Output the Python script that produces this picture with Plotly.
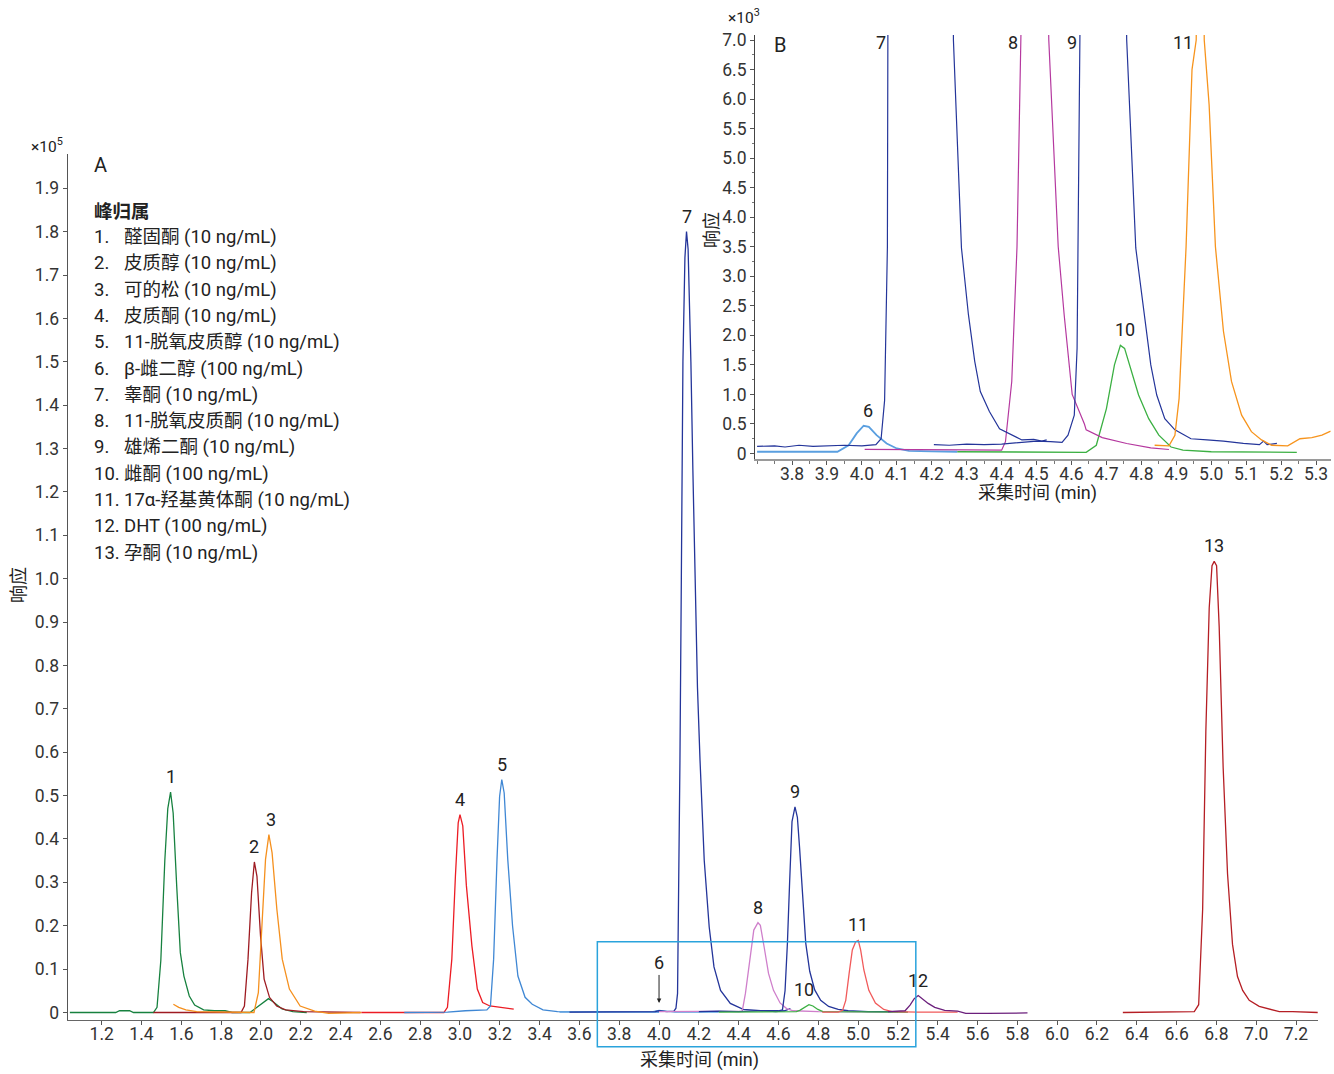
import plotly.graph_objects as go

FONT = "Roboto, 'Noto Sans CJK SC', sans-serif"
TXT = "#222222"
W, H = 1334, 1074

# ---------------- Main chromatogram A (response x10^5) ----------------
t1 = [1.04, 1.27, 1.29, 1.34, 1.36, 1.46, 1.478, 1.497, 1.517, 1.532, 1.546, 1.559, 1.577, 1.595, 1.613,
      1.64, 1.667, 1.712, 1.766, 1.82, 1.855, 1.945, 1.98, 2.016, 2.038, 2.061, 2.106, 2.16, 2.23]
y1 = [0, 0, 0.004, 0.004, 0, 0, 0.012, 0.12, 0.35, 0.47, 0.508, 0.46, 0.29, 0.138, 0.084,
      0.038, 0.017, 0.006, 0.004, 0.004, 0, 0, 0.012, 0.025, 0.032, 0.025, 0.008, 0.002, 0]

t2 = [1.46, 1.9, 1.917, 1.935, 1.953, 1.967, 1.98, 1.998, 2.016, 2.043, 2.079, 2.124, 2.214, 2.5]
y2 = [0, 0, 0.015, 0.123, 0.276, 0.347, 0.314, 0.176, 0.077, 0.035, 0.015, 0.006, 0.002, 0]

t3 = [1.56, 1.587, 1.623, 1.677, 1.965, 1.987, 2.005, 2.023, 2.04, 2.056, 2.08, 2.107, 2.143, 2.197,
      2.27, 2.34, 2.505]
y3 = [0.019, 0.012, 0.006, 0.002, 0, 0.046, 0.2, 0.353, 0.41, 0.368, 0.238, 0.123, 0.054, 0.015,
      0.003, -0.002, 0]

t4 = [2.505, 2.919, 2.937, 2.959, 2.977, 2.991, 3.0, 3.014, 3.032, 3.06, 3.087, 3.114, 3.15, 3.204, 3.27]
y4 = [0, 0, 0.012, 0.123, 0.314, 0.437, 0.456, 0.43, 0.293, 0.153, 0.054, 0.023, 0.015, 0.012, 0.008]

t5 = [2.72, 2.937, 3.027, 3.135, 3.153, 3.169, 3.186, 3.199, 3.21, 3.222, 3.24, 3.264, 3.291, 3.327,
      3.363, 3.417, 3.49, 3.7, 4.0]
y5 = [0, 0.001, 0.004, 0.006, 0.015, 0.123, 0.353, 0.498, 0.537, 0.506, 0.353, 0.2, 0.084, 0.035,
      0.019, 0.006, 0.002, 0.001, 0.001]

t6 = [3.5, 3.9, 3.97, 4.0, 4.03, 4.08, 4.3]
y6 = [0.001, 0.001, 0.002, 0.005, 0.003, 0.001, 0.001]

t7 = [3.55, 3.7, 3.85, 3.98, 4.0, 4.04, 4.075, 4.085, 4.093, 4.1, 4.105, 4.112, 4.12, 4.13, 4.138,
      4.146, 4.153, 4.16, 4.17, 4.18, 4.193, 4.206, 4.227, 4.252, 4.276, 4.309, 4.358, 4.423,
      4.504, 4.586, 4.63, 4.66]
y7 = [0.001, 0.001, 0.001, 0.002, 0.004, 0.002, 0.003, 0.01, 0.044, 0.3, 0.58, 1.0, 1.5, 1.74, 1.80,
      1.76, 1.65, 1.5, 1.25, 1.0, 0.75, 0.58, 0.351, 0.197, 0.105, 0.051, 0.021, 0.007,
      0.004, 0.002, 0.004, 0.009]

t8 = [4.0, 4.2, 4.4, 4.418, 4.434, 4.459, 4.476, 4.497, 4.509, 4.528, 4.55, 4.575, 4.608, 4.641,
      4.674, 4.8, 5.0, 5.25]
y8 = [0.002, 0.002, 0.002, 0.003, 0.044, 0.136, 0.19, 0.207, 0.201, 0.151, 0.09, 0.051, 0.022, 0.009,
      0.004, 0.002, 0.001, 0.001]

t9 = [4.2, 4.3, 4.4, 4.5, 4.6, 4.62, 4.633, 4.645, 4.656, 4.668, 4.683, 4.695, 4.706, 4.72, 4.737,
      4.757, 4.782, 4.812, 4.852, 4.9, 4.95, 5.05, 5.2]
y9 = [0.002, 0.003, 0.002, 0.004, 0.004, 0.006, 0.05, 0.16, 0.3, 0.44, 0.474, 0.45, 0.38, 0.27, 0.16,
      0.095, 0.052, 0.028, 0.014, 0.007, 0.004, 0.002, 0.002]

t10 = [4.3, 4.5, 4.69, 4.707, 4.732, 4.753, 4.773, 4.798, 4.823, 5.0, 5.25]
y10 = [0.001, 0.001, 0.002, 0.005, 0.013, 0.018, 0.015, 0.007, 0.002, 0.001, 0.001]

t11 = [4.82, 4.9, 4.922, 4.938, 4.955, 4.971, 4.988, 5.001, 5.013, 5.029, 5.054, 5.087, 5.129, 5.17,
       5.3, 5.5]
y11 = [0.001, 0.001, 0.005, 0.028, 0.09, 0.144, 0.163, 0.166, 0.144, 0.098, 0.051, 0.022, 0.007, 0.002,
       0.001, 0.001]

t12 = [5.15, 5.236, 5.261, 5.282, 5.302, 5.322, 5.352, 5.385, 5.435, 5.5, 5.541, 5.65, 5.742, 5.851]
y12 = [0.002, 0.004, 0.017, 0.032, 0.039, 0.032, 0.021, 0.012, 0.005, 0.003, -0.002, -0.002, -0.001,
       -0.001]

t13 = [6.33, 6.689, 6.711, 6.731, 6.747, 6.764, 6.778, 6.789, 6.801, 6.814, 6.834, 6.856, 6.881, 6.906,
       6.932, 6.965, 7.015, 7.082, 7.116, 7.183, 7.309]
y13 = [0, 0.002, 0.018, 0.238, 0.647, 0.933, 1.03, 1.04, 1.03, 0.89, 0.565, 0.32, 0.157, 0.083,
       0.051, 0.028, 0.014, 0.006, 0.002, 0.002, 0]

main_traces = [
    ("1", t1, y1, "#17813f"), ("2", t2, y2, "#9e1b22"), ("3", t3, y3, "#f5901e"),
    ("4", t4, y4, "#ec1c24"), ("5", t5, y5, "#3f87d4"), ("6", t6, y6, "#5a9fe0"),
    ("7", t7, y7, "#24359a"), ("8", t8, y8, "#cf7fcb"), ("9", t9, y9, "#24359a"),
    ("10", t10, y10, "#3cb043"), ("11", t11, y11, "#f15a5a"), ("12", t12, y12, "#6b1f7c"),
    ("13", t13, y13, "#b51e24"),
]

# ---------------- Inset B (response x10^3) ----------------
ti6 = [3.70, 3.80, 3.93, 3.962, 3.985, 4.005, 4.02, 4.042, 4.071, 4.10, 4.135, 4.20, 4.273]
yi6 = [0.03, 0.03, 0.03, 0.14, 0.34, 0.47, 0.45, 0.31, 0.17, 0.085, 0.045, 0.035, 0.03]

ti7 = [3.70, 3.75, 3.78, 3.82, 3.86, 3.90, 3.95, 4.00, 4.04, 4.055, 4.065, 4.073, 4.079, 4.14,
       4.262, 4.285, 4.305, 4.323, 4.339, 4.365, 4.394, 4.423, 4.458, 4.492, 4.515, 4.529]
yi7 = [0.12, 0.13, 0.11, 0.14, 0.12, 0.13, 0.14, 0.13, 0.15, 0.25, 0.9, 3.5, 7.0, 180,
       7.0, 3.48, 2.35, 1.56, 1.05, 0.71, 0.42, 0.34, 0.23, 0.24, 0.21, 0.23]

ti8 = [4.008, 4.10, 4.20, 4.30, 4.40, 4.411, 4.429, 4.444, 4.455, 4.497, 4.535, 4.562, 4.579, 4.602,
       4.637, 4.642, 4.688, 4.758, 4.827, 4.879]
yi8 = [0.07, 0.07, 0.065, 0.06, 0.057, 0.20, 1.22, 3.5, 7.0, 20.7, 7.0, 3.5, 2.35, 1.0,
       0.5, 0.40, 0.27, 0.17, 0.096, 0.068]

ti9 = [4.206, 4.25, 4.30, 4.35, 4.40, 4.45, 4.50, 4.54, 4.573, 4.59, 4.608, 4.616, 4.619, 4.624,
       4.683, 4.758, 4.784, 4.804, 4.827, 4.844, 4.867, 4.896, 4.942, 4.988, 5.035, 5.092, 5.138,
       5.15, 5.16, 5.188]
yi9 = [0.15, 0.14, 0.16, 0.15, 0.16, 0.19, 0.21, 0.20, 0.19, 0.31, 0.65, 1.78, 3.48, 7.0,
       47.4, 7.0, 3.48, 2.52, 1.5, 0.99, 0.59, 0.40, 0.25, 0.23, 0.21, 0.17, 0.15,
       0.21, 0.15, 0.17]

ti10 = [4.273, 4.40, 4.50, 4.60, 4.642, 4.671, 4.70, 4.723, 4.74, 4.752, 4.77, 4.792, 4.821, 4.85,
        4.885, 4.919, 5.00, 5.10, 5.245]
yi10 = [0.03, 0.028, 0.025, 0.022, 0.02, 0.14, 0.76, 1.5, 1.83, 1.78, 1.44, 0.99, 0.59, 0.31,
        0.11, 0.057, 0.03, 0.025, 0.02]

ti11 = [4.838, 4.879, 4.896, 4.908, 4.919, 4.928, 4.945, 4.957, 4.97, 4.98, 4.994, 5.012, 5.035, 5.058,
        5.087, 5.115, 5.144, 5.173, 5.219, 5.23, 5.254, 5.288, 5.317, 5.342]
yi11 = [0.14, 0.13, 0.31, 0.93, 2.35, 3.5, 6.5, 7.0, 16.6, 7.0, 5.9, 3.5, 2.07, 1.22,
        0.65, 0.37, 0.23, 0.14, 0.13, 0.17, 0.25, 0.27, 0.31, 0.38]

inset_traces = [
    ("6", ti6, yi6, "#5a9fe0", 1.8), ("10", ti10, yi10, "#3cb043", 1.3),
    ("8", ti8, yi8, "#b5389f", 1.2), ("7", ti7, yi7, "#24359a", 1.2),
    ("9", ti9, yi9, "#24359a", 1.2), ("11", ti11, yi11, "#f7941d", 1.3),
]

legend_title = "峰归属"
legend_nums = ["1.", "2.", "3.", "4.", "5.", "6.", "7.", "8.", "9.", "10.", "11.", "12.", "13."]
legend_names = ["醛固酮 (10 ng/mL)", "皮质醇 (10 ng/mL)", "可的松 (10 ng/mL)", "皮质酮 (10 ng/mL)",
                "11-脱氧皮质醇 (10 ng/mL)", "β-雌二醇 (100 ng/mL)", "睾酮 (10 ng/mL)",
                "11-脱氧皮质酮 (10 ng/mL)", "雄烯二酮 (10 ng/mL)", "雌酮 (100 ng/mL)",
                "17α-羟基黄体酮 (10 ng/mL)", "DHT (100 ng/mL)", "孕酮 (10 ng/mL)"]

main_xticks = [round(1.2 + 0.2 * i, 1) for i in range(31)]
main_yticks = [round(0.1 * i, 1) for i in range(20)]
inset_xticks = [round(3.8 + 0.1 * i, 1) for i in range(16)]
inset_yticks = [round(0.5 * i, 1) for i in range(15)]

# ---------------- layout geometry (pixels) ----------------
MX0, MX1, MY_BOT, MY_TOP = 67.7, 1318.3, 1020, 154
MAIN_XR = [1.0292, 7.312]
MAIN_YR = [-0.0173, 1.979]
IX0, IX1, IY_BOT, IY_TOP = 755, 1330.7, 459.3, 35
INSET_XR = [3.694, 5.342]
INSET_YR = [-0.098, 7.085]

def px(v):
    return v / W

def py(v):
    return (H - v) / H

def main_to_paper(t, y):
    fx = (t - MAIN_XR[0]) / (MAIN_XR[1] - MAIN_XR[0])
    fy = (y - MAIN_YR[0]) / (MAIN_YR[1] - MAIN_YR[0])
    return px(MX0 + fx * (MX1 - MX0)), py(MY_BOT - fy * (MY_BOT - MY_TOP))

ZOOM_BOX_T = (3.69, 5.29)
ZOOM_BOX_Y = (-0.079, 0.163)

fig = go.Figure()
for name, t, y, c in main_traces:
    fig.add_trace(go.Scatter(x=t, y=y, mode="lines", line=dict(color=c, width=1.3),
                             name=name, showlegend=False, xaxis="x", yaxis="y"))
for name, t, y, c, w in inset_traces:
    fig.add_trace(go.Scatter(x=t, y=y, mode="lines", line=dict(color=c, width=w),
                             name=name, showlegend=False, xaxis="x2", yaxis="y2"))

ann = []
tick_font = dict(family=FONT, size=17.5, color="#333333")
lab_font = dict(family=FONT, size=18, color=TXT)
leg_font = dict(family=FONT, size=18.5, color=TXT)

# peak labels, main
for name, t, y, c in main_traces:
    if name == "6":
        continue
    i = max(range(len(y)), key=lambda k: y[k])
    dx = {"3": 2, "10": -5}.get(name, 0)
    ann.append(dict(x=t[i], y=y[i], xref="x", yref="y", text=name, showarrow=False,
                    xanchor="center", yanchor="bottom", yshift=3, xshift=dx, font=lab_font))
ann.append(dict(x=4.0, y=0.022, xref="x", yref="y", text="6", showarrow=True, ax=0, ay=-40,
                arrowhead=2, arrowsize=0.9, arrowwidth=1, arrowcolor=TXT, standoff=0, font=lab_font))

# peak labels, inset (top ones sit left of the line where it leaves the frame)
for name, t, y in [("7", ti7, yi7), ("8", ti8, yi8), ("9", ti9, yi9), ("11", ti11, yi11)]:
    k = y.index(7.0)
    ann.append(dict(x=t[k], y=7.0, xref="x2", yref="y2", text=name, showarrow=False,
                    xanchor="right", yanchor="middle", xshift=-1, yshift=-2, font=lab_font))
for name, t, y, dx in [("10", ti10, yi10, 5), ("6", ti6, yi6, 4)]:
    i = max(range(len(y)), key=lambda k: y[k])
    ann.append(dict(x=t[i], y=y[i], xref="x2", yref="y2", text=name, showarrow=False,
                    xanchor="center", yanchor="bottom", yshift=3, xshift=dx, font=lab_font))

# axis multipliers, panel letters, titles
ann += [
    dict(x=px(47), y=py(145), text="×10<sup>5</sup>", font=dict(family=FONT, size=15.5, color=TXT)),
    dict(x=px(744), y=py(17), text="×10<sup>3</sup>", font=dict(family=FONT, size=15.5, color=TXT)),
    dict(x=px(92), y=py(165), text="A", xanchor="left", font=dict(family=FONT, size=20, color=TXT)),
    dict(x=px(772), y=py(45), text="B", xanchor="left", font=dict(family=FONT, size=20, color=TXT)),
    dict(x=px(18), y=py(585), text="响应", textangle=-90, font=lab_font),
    dict(x=px(711), y=py(230), text="响应", textangle=-90, font=lab_font),
    dict(x=px(700), y=py(1060), text="采集时间 (min)", font=lab_font),
    dict(x=px(1037), y=py(493), text="采集时间 (min)", font=lab_font),
    dict(x=px(92), y=py(212), text="<b>" + legend_title + "</b>", xanchor="left", font=leg_font),
]
for i, (n, s) in enumerate(zip(legend_nums, legend_names)):
    yy = py(237 + i * 26.3)
    ann.append(dict(x=px(92), y=yy, text=n, xanchor="left", font=leg_font))
    ann.append(dict(x=px(122), y=yy, text=s, xanchor="left", font=leg_font))
for a in ann:
    a.setdefault("xref", "paper")
    a.setdefault("yref", "paper")
    a.setdefault("xanchor", "center")
    a.setdefault("yanchor", "middle")
    a.setdefault("showarrow", False)

bx0, by0 = main_to_paper(ZOOM_BOX_T[0], ZOOM_BOX_Y[0])
bx1, by1 = main_to_paper(ZOOM_BOX_T[1], ZOOM_BOX_Y[1])
shapes = [dict(type="rect", xref="paper", yref="paper", x0=bx0, x1=bx1, y0=by0, y1=by1,
               line=dict(color="#2aa3dc", width=1.5), fillcolor="rgba(0,0,0,0)", layer="above")]

fig.update_layout(
    width=W, height=H, template="none",
    margin=dict(l=0, r=0, t=0, b=0, pad=0),
    paper_bgcolor="white", plot_bgcolor="rgba(0,0,0,0)",
    showlegend=False, font=dict(family=FONT, color=TXT),
    xaxis=dict(domain=[px(MX0), px(MX1)], range=MAIN_XR, anchor="y",
               tickvals=main_xticks, ticktext=[f"{v:.1f}" for v in main_xticks],
               ticks="outside", ticklen=4, tickwidth=1, tickcolor="#555", ticklabelstandoff=-6,
               showline=True, linecolor="#666", linewidth=1.3, showgrid=False, zeroline=False,
               tickfont=tick_font, automargin=False),
    yaxis=dict(domain=[py(MY_BOT), py(MY_TOP)], range=MAIN_YR, anchor="x",
               tickvals=main_yticks, ticktext=["0"] + [f"{v:.1f}" for v in main_yticks[1:]],
               ticks="outside", ticklen=4, tickwidth=1, tickcolor="#555",
               showline=True, linecolor="#555", linewidth=1.2, showgrid=False, zeroline=False,
               tickfont=tick_font, automargin=False),
    xaxis2=dict(domain=[px(IX0), px(IX1)], range=INSET_XR, anchor="y2",
                tickvals=inset_xticks, ticktext=[f"{v:.1f}" for v in inset_xticks],
                ticks="outside", ticklen=4, tickwidth=1, tickcolor="#555", ticklabelstandoff=-6,
                minor=dict(dtick=0.05, tick0=3.7, ticks="outside", ticklen=3, tickcolor="#777"),
                showline=True, linecolor="#9a9a9a", linewidth=2.2, showgrid=False, zeroline=False,
                tickfont=tick_font, automargin=False),
    yaxis2=dict(domain=[py(IY_BOT), py(IY_TOP)], range=INSET_YR, anchor="x2",
                tickvals=inset_yticks, ticktext=["0"] + [f"{v:.1f}" for v in inset_yticks[1:]],
                ticks="outside", ticklen=4, tickwidth=1, tickcolor="#555",
                minor=dict(dtick=0.25, tick0=0, ticks="outside", ticklen=2, tickcolor="#777"),
                showline=True, linecolor="#444", linewidth=1, showgrid=False, zeroline=False,
                tickfont=tick_font, automargin=False),
    annotations=ann, shapes=shapes,
)

fig.write_html("out.html", config={"displayModeBar": False},
               post_script="document.body.style.margin='0';document.body.style.padding='0';")
